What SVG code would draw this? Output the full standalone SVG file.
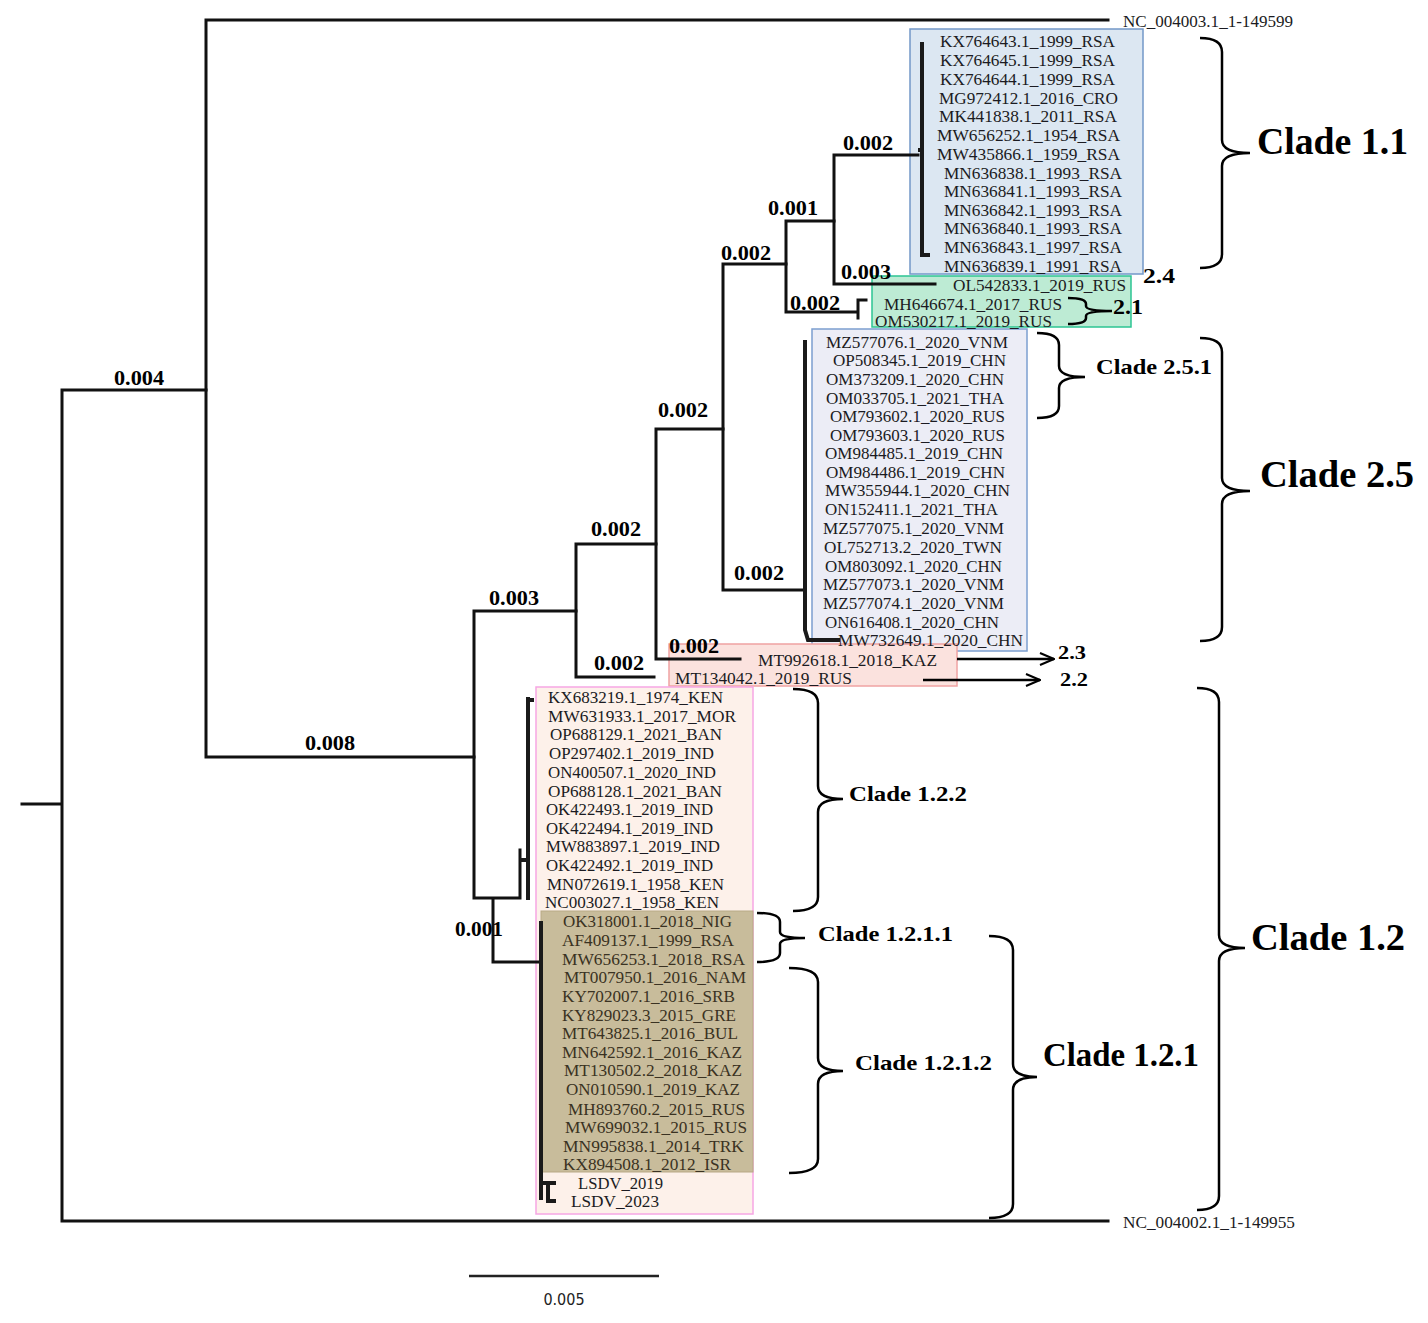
<svg xmlns="http://www.w3.org/2000/svg" width="1428" height="1323" viewBox="0 0 1428 1323">
<style>
.br{fill:none;stroke:#111;stroke-width:3;stroke-linecap:square}
.sub{fill:none;stroke:#1a1a1a;stroke-width:4}
.lf{font-family:"Liberation Serif","DejaVu Serif",serif;font-size:17px;fill:#1b1b22}
.ol{fill:#3a3222}
.bl{font-family:"Liberation Serif","DejaVu Serif",serif;font-size:20px;font-weight:bold;fill:#000}
.cl{font-family:"Liberation Serif","DejaVu Serif",serif;font-weight:bold;fill:#000}
.brace{fill:none;stroke:#000;stroke-width:2.5}
.sb{font-family:"Liberation Sans Narrow","DejaVu Sans Condensed","Liberation Sans",sans-serif;font-size:16px;fill:#222}
</style>
<defs>
<marker id="ar" markerWidth="16" markerHeight="14" refX="15" refY="7" orient="auto" markerUnits="userSpaceOnUse">
<path d="M1,1 L15,7 L1,13" fill="none" stroke="#000" stroke-width="2"/>
</marker>
</defs>
<rect width="1428" height="1323" fill="#fff"/>

<g id="boxes">
<rect x="910" y="29" width="233" height="245" fill="#dce7f2" stroke="#7398c8" stroke-width="1.5"/>
<rect x="872" y="276" width="259" height="51" fill="#bdebd4" stroke="#2dc593" stroke-width="1.5"/>
<rect x="812" y="329" width="215" height="322" fill="#ecedf6" stroke="#7c9fd0" stroke-width="1.5"/>
<rect x="669" y="644" width="288" height="42" fill="#fbe2de" stroke="#f0a3a3" stroke-width="1.5"/>
<rect x="536" y="687" width="217" height="527" fill="#fdf1ea" stroke="#f6a6e4" stroke-width="1.5"/>
<rect x="541" y="911" width="212" height="261" fill="#c8bc9b" stroke="#b8a985" stroke-width="1"/>
</g>

<g id="connectors">
<path class="br" d="M22,804 H62 M62,390 V1221 M62,390 H206 M62,1221 H1108"/>
<path class="br" d="M206,20 V757 M206,20 H1108 M206,757 H474"/>
<path class="br" d="M474,611 V898 M474,611 H576 M474,898 H520 M493,898 V962 M493,962 H541 M520,850 V898"/>
<path class="br" d="M576,544 V677 M576,544 H656 M576,677 H654"/>
<path class="br" d="M656,429 V659 M656,429 H723 M656,659 H740"/>
<path class="br" d="M723,264 V590 M723,264 H786 M723,590 H805"/>
<path class="br" d="M786,221 V312 M786,221 H834 M786,312 H858 M858,300 V318 M858,300 H866"/>
<path class="br" d="M834,155 V284 M834,155 H918 M834,284 H935"/>
<path class="sub" d="M922,42 V250 M918,150 H922 M922,170 V255 H930"/>
<path class="sub" d="M805,340 V630 L808,640 H840" stroke-width="4.5"/>
<path class="sub" d="M528,697 V900 M520,860 H528 M528,700 H534"/>
<path class="sub" d="M541,921 V1200 M541,1183 H556 M548,1183 V1201 H556" stroke="#3a3020"/>
<path d="M957,659 H1054" fill="none" stroke="#000" stroke-width="2.5" marker-end="url(#ar)"/>
<path d="M923,680 H1040" fill="none" stroke="#000" stroke-width="2.5" marker-end="url(#ar)"/>
<path d="M469,1276 H659" stroke="#222" stroke-width="2.5"/>
</g>

<g id="branch-labels">
<text class="bl" x="114" y="385" textLength="50" lengthAdjust="spacingAndGlyphs">0.004</text>
<text class="bl" x="305" y="750" textLength="50" lengthAdjust="spacingAndGlyphs">0.008</text>
<text class="bl" x="489" y="605" textLength="50" lengthAdjust="spacingAndGlyphs">0.003</text>
<text class="bl" x="455" y="936" textLength="48" lengthAdjust="spacingAndGlyphs">0.001</text>
<text class="bl" x="591" y="536" textLength="50" lengthAdjust="spacingAndGlyphs">0.002</text>
<text class="bl" x="594" y="670" textLength="50" lengthAdjust="spacingAndGlyphs">0.002</text>
<text class="bl" x="658" y="417" textLength="50" lengthAdjust="spacingAndGlyphs">0.002</text>
<text class="bl" x="669" y="653" textLength="50" lengthAdjust="spacingAndGlyphs">0.002</text>
<text class="bl" x="721" y="260" textLength="50" lengthAdjust="spacingAndGlyphs">0.002</text>
<text class="bl" x="734" y="580" textLength="50" lengthAdjust="spacingAndGlyphs">0.002</text>
<text class="bl" x="768" y="215" textLength="50" lengthAdjust="spacingAndGlyphs">0.001</text>
<text class="bl" x="790" y="310" textLength="50" lengthAdjust="spacingAndGlyphs">0.002</text>
<text class="bl" x="843" y="150" textLength="50" lengthAdjust="spacingAndGlyphs">0.002</text>
<text class="bl" x="841" y="279" textLength="50" lengthAdjust="spacingAndGlyphs">0.003</text>
</g>

<g id="n-NC004003"><text class="lf" x="1123" y="27" textLength="170" lengthAdjust="spacingAndGlyphs">NC_004003.1_1-149599</text></g>
<g id="n-NC004002"><text class="lf" x="1123" y="1228" textLength="172" lengthAdjust="spacingAndGlyphs">NC_004002.1_1-149955</text></g>

<g id="clade11-leaves">
<g id="n1"><text class="lf" x="940" y="47" textLength="175" lengthAdjust="spacingAndGlyphs">KX764643.1_1999_RSA</text></g>
<g id="n2"><text class="lf" x="940" y="66" textLength="175" lengthAdjust="spacingAndGlyphs">KX764645.1_1999_RSA</text></g>
<g id="n3"><text class="lf" x="940" y="85" textLength="175" lengthAdjust="spacingAndGlyphs">KX764644.1_1999_RSA</text></g>
<g id="n4"><text class="lf" x="939" y="104" textLength="179" lengthAdjust="spacingAndGlyphs">MG972412.1_2016_CRO</text></g>
<g id="n5"><text class="lf" x="939" y="122" textLength="178" lengthAdjust="spacingAndGlyphs">MK441838.1_2011_RSA</text></g>
<g id="n6"><text class="lf" x="937" y="141" textLength="183" lengthAdjust="spacingAndGlyphs">MW656252.1_1954_RSA</text></g>
<g id="n7"><text class="lf" x="937" y="160" textLength="183" lengthAdjust="spacingAndGlyphs">MW435866.1_1959_RSA</text></g>
<g id="n8"><text class="lf" x="944" y="179" textLength="178" lengthAdjust="spacingAndGlyphs">MN636838.1_1993_RSA</text></g>
<g id="n9"><text class="lf" x="944" y="197" textLength="178" lengthAdjust="spacingAndGlyphs">MN636841.1_1993_RSA</text></g>
<g id="n10"><text class="lf" x="944" y="216" textLength="178" lengthAdjust="spacingAndGlyphs">MN636842.1_1993_RSA</text></g>
<g id="n11"><text class="lf" x="944" y="234" textLength="178" lengthAdjust="spacingAndGlyphs">MN636840.1_1993_RSA</text></g>
<g id="n12"><text class="lf" x="944" y="253" textLength="178" lengthAdjust="spacingAndGlyphs">MN636843.1_1997_RSA</text></g>
<g id="n13"><text class="lf" x="944" y="272" textLength="178" lengthAdjust="spacingAndGlyphs">MN636839.1_1991_RSA</text></g>
</g>

<g id="clade24-21-leaves">
<g id="n14"><text class="lf" x="953" y="291" textLength="173" lengthAdjust="spacingAndGlyphs" fill="#1d3a2c">OL542833.1_2019_RUS</text></g>
<g id="n15"><text class="lf" x="884" y="310" textLength="178" lengthAdjust="spacingAndGlyphs" fill="#1d3a2c">MH646674.1_2017_RUS</text></g>
<g id="n16"><text class="lf" x="875" y="327" textLength="177" lengthAdjust="spacingAndGlyphs" fill="#1d3a2c">OM530217.1_2019_RUS</text></g>
</g>

<g id="clade25-leaves">
<g id="n17"><text class="lf" x="826" y="348" textLength="182" lengthAdjust="spacingAndGlyphs">MZ577076.1_2020_VNM</text></g>
<g id="n18"><text class="lf" x="833" y="366" textLength="173" lengthAdjust="spacingAndGlyphs">OP508345.1_2019_CHN</text></g>
<g id="n19"><text class="lf" x="826" y="385" textLength="178" lengthAdjust="spacingAndGlyphs">OM373209.1_2020_CHN</text></g>
<g id="n20"><text class="lf" x="826" y="404" textLength="178" lengthAdjust="spacingAndGlyphs">OM033705.1_2021_THA</text></g>
<g id="n21"><text class="lf" x="830" y="422" textLength="175" lengthAdjust="spacingAndGlyphs">OM793602.1_2020_RUS</text></g>
<g id="n22"><text class="lf" x="830" y="441" textLength="175" lengthAdjust="spacingAndGlyphs">OM793603.1_2020_RUS</text></g>
<g id="n23"><text class="lf" x="825" y="459" textLength="178" lengthAdjust="spacingAndGlyphs">OM984485.1_2019_CHN</text></g>
<g id="n24"><text class="lf" x="826" y="478" textLength="179" lengthAdjust="spacingAndGlyphs">OM984486.1_2019_CHN</text></g>
<g id="n25"><text class="lf" x="825" y="496" textLength="185" lengthAdjust="spacingAndGlyphs">MW355944.1_2020_CHN</text></g>
<g id="n26"><text class="lf" x="825" y="515" textLength="173" lengthAdjust="spacingAndGlyphs">ON152411.1_2021_THA</text></g>
<g id="n27"><text class="lf" x="823" y="534" textLength="181" lengthAdjust="spacingAndGlyphs">MZ577075.1_2020_VNM</text></g>
<g id="n28"><text class="lf" x="824" y="553" textLength="178" lengthAdjust="spacingAndGlyphs">OL752713.2_2020_TWN</text></g>
<g id="n29"><text class="lf" x="825" y="572" textLength="177" lengthAdjust="spacingAndGlyphs">OM803092.1_2020_CHN</text></g>
<g id="n30"><text class="lf" x="823" y="590" textLength="181" lengthAdjust="spacingAndGlyphs">MZ577073.1_2020_VNM</text></g>
<g id="n31"><text class="lf" x="823" y="609" textLength="181" lengthAdjust="spacingAndGlyphs">MZ577074.1_2020_VNM</text></g>
<g id="n32"><text class="lf" x="825" y="628" textLength="174" lengthAdjust="spacingAndGlyphs">ON616408.1_2020_CHN</text></g>
<g id="n33"><text class="lf" x="838" y="646" textLength="185" lengthAdjust="spacingAndGlyphs">MW732649.1_2020_CHN</text></g>
</g>

<g id="clade23-22-leaves">
<g id="n34"><text class="lf" x="758" y="666" textLength="179" lengthAdjust="spacingAndGlyphs">MT992618.1_2018_KAZ</text></g>
<g id="n35"><text class="lf" x="675" y="684" textLength="177" lengthAdjust="spacingAndGlyphs">MT134042.1_2019_RUS</text></g>
</g>

<g id="clade122-leaves">
<g id="n36"><text class="lf" x="548" y="703" textLength="175" lengthAdjust="spacingAndGlyphs">KX683219.1_1974_KEN</text></g>
<g id="n37"><text class="lf" x="548" y="722" textLength="188" lengthAdjust="spacingAndGlyphs">MW631933.1_2017_MOR</text></g>
<g id="n38"><text class="lf" x="550" y="740" textLength="172" lengthAdjust="spacingAndGlyphs">OP688129.1_2021_BAN</text></g>
<g id="n39"><text class="lf" x="549" y="759" textLength="165" lengthAdjust="spacingAndGlyphs">OP297402.1_2019_IND</text></g>
<g id="n40"><text class="lf" x="548" y="778" textLength="168" lengthAdjust="spacingAndGlyphs">ON400507.1_2020_IND</text></g>
<g id="n41"><text class="lf" x="548" y="797" textLength="174" lengthAdjust="spacingAndGlyphs">OP688128.1_2021_BAN</text></g>
<g id="n42"><text class="lf" x="546" y="815" textLength="167" lengthAdjust="spacingAndGlyphs">OK422493.1_2019_IND</text></g>
<g id="n43"><text class="lf" x="546" y="834" textLength="167" lengthAdjust="spacingAndGlyphs">OK422494.1_2019_IND</text></g>
<g id="n44"><text class="lf" x="546" y="852" textLength="174" lengthAdjust="spacingAndGlyphs">MW883897.1_2019_IND</text></g>
<g id="n45"><text class="lf" x="546" y="871" textLength="167" lengthAdjust="spacingAndGlyphs">OK422492.1_2019_IND</text></g>
<g id="n46"><text class="lf" x="547" y="890" textLength="177" lengthAdjust="spacingAndGlyphs">MN072619.1_1958_KEN</text></g>
<g id="n47"><text class="lf" x="545" y="908" textLength="174" lengthAdjust="spacingAndGlyphs">NC003027.1_1958_KEN</text></g>
</g>

<g id="clade121-leaves">
<g id="n48"><text class="lf ol" x="563" y="927" textLength="169" lengthAdjust="spacingAndGlyphs">OK318001.1_2018_NIG</text></g>
<g id="n49"><text class="lf ol" x="562" y="946" textLength="172" lengthAdjust="spacingAndGlyphs">AF409137.1_1999_RSA</text></g>
<g id="n50"><text class="lf ol" x="562" y="965" textLength="183" lengthAdjust="spacingAndGlyphs">MW656253.1_2018_RSA</text></g>
<g id="n51"><text class="lf ol" x="564" y="983" textLength="182" lengthAdjust="spacingAndGlyphs">MT007950.1_2016_NAM</text></g>
<g id="n52"><text class="lf ol" x="562" y="1002" textLength="173" lengthAdjust="spacingAndGlyphs">KY702007.1_2016_SRB</text></g>
<g id="n53"><text class="lf ol" x="562" y="1021" textLength="174" lengthAdjust="spacingAndGlyphs">KY829023.3_2015_GRE</text></g>
<g id="n54"><text class="lf ol" x="562" y="1039" textLength="176" lengthAdjust="spacingAndGlyphs">MT643825.1_2016_BUL</text></g>
<g id="n55"><text class="lf ol" x="562" y="1058" textLength="180" lengthAdjust="spacingAndGlyphs">MN642592.1_2016_KAZ</text></g>
<g id="n56"><text class="lf ol" x="564" y="1076" textLength="178" lengthAdjust="spacingAndGlyphs">MT130502.2_2018_KAZ</text></g>
<g id="n57"><text class="lf ol" x="566" y="1095" textLength="174" lengthAdjust="spacingAndGlyphs">ON010590.1_2019_KAZ</text></g>
<g id="n58"><text class="lf ol" x="568" y="1115" textLength="177" lengthAdjust="spacingAndGlyphs">MH893760.2_2015_RUS</text></g>
<g id="n59"><text class="lf ol" x="565" y="1133" textLength="182" lengthAdjust="spacingAndGlyphs">MW699032.1_2015_RUS</text></g>
<g id="n60"><text class="lf ol" x="563" y="1152" textLength="181" lengthAdjust="spacingAndGlyphs">MN995838.1_2014_TRK</text></g>
<g id="n61"><text class="lf ol" x="563" y="1170" textLength="168" lengthAdjust="spacingAndGlyphs">KX894508.1_2012_ISR</text></g>
<g id="n62"><text class="lf" x="578" y="1189" textLength="85" lengthAdjust="spacingAndGlyphs">LSDV_2019</text></g>
<g id="n63"><text class="lf" x="571" y="1207" textLength="88" lengthAdjust="spacingAndGlyphs">LSDV_2023</text></g>
</g>

<g id="braces">
<path class="brace" d="M1200,38 Q1222,38 1222,52 V140 Q1222,153 1250,153 Q1222,153 1222,166 V254 Q1222,268 1200,268"/>
<path class="brace" d="M1200,338 Q1222,338 1222,352 V478 Q1222,491 1250,491 Q1222,491 1222,504 V627 Q1222,641 1200,641"/>
<path class="brace" d="M1037,333 Q1059,333 1059,345 V366 Q1059,377 1085,377 Q1059,377 1059,388 V406 Q1059,418 1037,418"/>
<path class="brace" d="M1197,688 Q1219,688 1219,702 V935 Q1219,948 1245,948 Q1219,948 1219,961 V1196 Q1219,1210 1197,1210"/>
<path class="brace" d="M793,689 Q818,689 818,703 V786 Q818,799 843,799 Q818,799 818,812 V897 Q818,911 793,911"/>
<path class="brace" d="M757,913 Q780,913 780,922 V932 Q780,938 805,938 Q780,938 780,944 V953 Q780,962 757,962"/>
<path class="brace" d="M789,968 Q818,968 818,982 V1058 Q818,1071 843,1071 Q818,1071 818,1084 V1159 Q818,1173 789,1173"/>
<path class="brace" d="M989,936 Q1013,936 1013,950 V1064 Q1013,1077 1037,1077 Q1013,1077 1013,1090 V1204 Q1013,1218 989,1218"/>
<path class="brace" d="M1068,298 Q1086,298 1086,304 V306 Q1086,311 1112,311 Q1086,311 1086,316 V318 Q1086,324 1068,324"/>
</g>

<g id="clade-labels">
<text class="cl" x="1257" y="154" font-size="37" textLength="151" lengthAdjust="spacingAndGlyphs">Clade 1.1</text>
<text class="cl" x="1143" y="283" font-size="21" textLength="32" lengthAdjust="spacingAndGlyphs">2.4</text>
<text class="cl" x="1113" y="314" font-size="21" textLength="30" lengthAdjust="spacingAndGlyphs">2.1</text>
<text class="cl" x="1096" y="374" font-size="21" textLength="116" lengthAdjust="spacingAndGlyphs">Clade 2.5.1</text>
<text class="cl" x="1260" y="487" font-size="37" textLength="154" lengthAdjust="spacingAndGlyphs">Clade 2.5</text>
<text class="cl" x="1058" y="659" font-size="19" textLength="28" lengthAdjust="spacingAndGlyphs">2.3</text>
<text class="cl" x="1060" y="686" font-size="19" textLength="28" lengthAdjust="spacingAndGlyphs">2.2</text>
<text class="cl" x="849" y="801" font-size="21" textLength="118" lengthAdjust="spacingAndGlyphs">Clade 1.2.2</text>
<text class="cl" x="818" y="941" font-size="21" textLength="135" lengthAdjust="spacingAndGlyphs">Clade 1.2.1.1</text>
<text class="cl" x="855" y="1070" font-size="21" textLength="137" lengthAdjust="spacingAndGlyphs">Clade 1.2.1.2</text>
<text class="cl" x="1043" y="1066" font-size="33" textLength="156" lengthAdjust="spacingAndGlyphs">Clade 1.2.1</text>
<text class="cl" x="1251" y="950" font-size="37" textLength="154" lengthAdjust="spacingAndGlyphs">Clade 1.2</text>
</g>

<g id="scale-label"><text class="sb" x="564" y="1305" text-anchor="middle">0.005</text></g>
</svg>
